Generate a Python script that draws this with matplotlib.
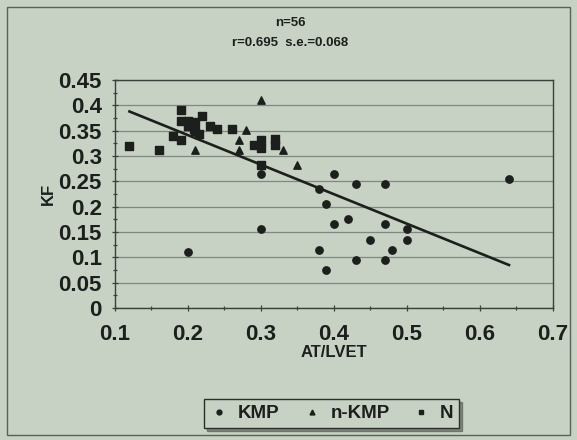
import numpy as np
import matplotlib
matplotlib.use('Agg')
import matplotlib.pyplot as plt
from matplotlib.patches import Rectangle
from matplotlib.lines import Line2D
from matplotlib.ticker import MultipleLocator

# KMP group (circles)
kmp_x = [0.20, 0.30, 0.30, 0.40, 0.43, 0.47, 0.64, 0.38, 0.39, 0.40,
         0.42, 0.47, 0.50, 0.45, 0.50, 0.38, 0.48, 0.43, 0.47, 0.39]
kmp_y = [0.11, 0.155, 0.265, 0.265, 0.245, 0.245, 0.255, 0.235, 0.205, 0.165,
         0.175, 0.165, 0.155, 0.135, 0.135, 0.115, 0.115, 0.095, 0.095, 0.075]

# n-KMP group (triangles)
nkmp_x = [0.30, 0.28, 0.27, 0.27, 0.21, 0.33, 0.35]
nkmp_y = [0.41, 0.352, 0.331, 0.312, 0.312, 0.312, 0.283]

# N group (squares)
n_x = [0.12, 0.16, 0.19, 0.22, 0.19, 0.20, 0.21, 0.20, 0.21, 0.23, 0.24,
       0.26, 0.18, 0.19, 0.215, 0.29, 0.30, 0.30, 0.32, 0.32, 0.30, 0.208]
n_y = [0.32, 0.312, 0.39, 0.38, 0.37, 0.37, 0.367, 0.36, 0.35, 0.36, 0.353,
       0.353, 0.34, 0.332, 0.343, 0.321, 0.331, 0.316, 0.333, 0.321, 0.283, 0.353]

# regression line
fit_slope = -0.583
fit_intercept = 0.458

title_lines = ['n=56', 'r=0.695  s.e.=0.068']
x_ticks = [0.1, 0.2, 0.3, 0.4, 0.5, 0.6, 0.7]
y_ticks = [0, 0.05, 0.1, 0.15, 0.2, 0.25, 0.3, 0.35, 0.4, 0.45]

bg = '#c7d1c4'
ink = '#1c1f1c'

fig = plt.figure(figsize=(5.77, 4.40), dpi=100, facecolor=bg)
ax = fig.add_axes([0.199, 0.30, 0.759, 0.518])
ax.set_facecolor(bg)

ax.scatter(kmp_x, kmp_y, s=28, marker='o', color=ink, zorder=3)
ax.scatter(nkmp_x, nkmp_y, s=28, marker='^', color=ink, zorder=3)
ax.scatter(n_x, n_y, s=26, marker='s', color=ink, zorder=3)

all_x = np.array(kmp_x + nkmp_x + n_x)
xl = np.array([all_x.min(), all_x.max()])
ax.plot(xl, fit_slope * xl + fit_intercept, color=ink, lw=1.9, zorder=2)

ax.set_xlim(0.1, 0.7)
ax.set_ylim(0, 0.45)
ax.set_xticks(x_ticks)
ax.set_yticks(y_ticks)
ax.set_xticklabels([str(v) for v in x_ticks])
ax.set_yticklabels([str(v) for v in y_ticks])
ax.xaxis.set_minor_locator(MultipleLocator(0.05))
ax.yaxis.set_minor_locator(MultipleLocator(0.025))
ax.tick_params(which='both', direction='inout', color='#3a403a', width=0.9)
ax.tick_params(which='major', length=5, labelsize=16, labelcolor=ink)
ax.tick_params(axis='x', which='major', pad=9)
ax.tick_params(axis='y', which='major', pad=7)
ax.tick_params(which='minor', length=3)
for lab in ax.get_xticklabels() + ax.get_yticklabels():
    lab.set_fontfamily('Liberation Sans')
    lab.set_fontweight('bold')
ax.grid(axis='y', color='#7f897f', lw=0.9)
ax.set_axisbelow(True)
for sp in ax.spines.values():
    sp.set_color('#3a403a')
    sp.set_linewidth(1.0)

ax.set_xlabel('AT/LVET', fontsize=12, fontweight='bold', family='Liberation Sans',
              color=ink, labelpad=0)
ax.set_ylabel('KF', fontsize=12, fontweight='bold', family='Liberation Sans',
              color=ink, labelpad=2)

fig.text(0.503, 0.948, title_lines[0], ha='center', va='center', fontsize=9.5,
         fontweight='bold', family='Liberation Sans', color=ink)
fig.text(0.503, 0.903, title_lines[1], ha='center', va='center', fontsize=9.5,
         fontweight='bold', family='Liberation Sans', color=ink)

handles = [Line2D([], [], ls='none', marker='o', ms=3.5, color=ink),
           Line2D([], [], ls='none', marker='^', ms=3.5, color=ink),
           Line2D([], [], ls='none', marker='s', ms=3.5, color=ink)]
leg = fig.legend(handles, ['KMP', 'n-KMP', 'N'], loc='center', bbox_to_anchor=(0.575, 0.06),
                 ncol=3, frameon=True, fancybox=False, shadow=True, handlelength=1.0,
                 handletextpad=0.5, columnspacing=1.2, borderpad=0.3,
                 prop={'family': 'Liberation Sans', 'weight': 'bold', 'size': 13.5})
leg.get_frame().set_facecolor(bg)
leg.get_frame().set_edgecolor('#2a2f2a')
leg.get_frame().set_linewidth(1.0)
for t in leg.get_texts():
    t.set_color(ink)

# outer chart border
fig.patches.append(Rectangle((0.012, 0.012), 0.976, 0.972, transform=fig.transFigure,
                             fill=False, edgecolor='#5a605a', lw=1.0))

fig.savefig('out.png', dpi=100, facecolor=bg)
